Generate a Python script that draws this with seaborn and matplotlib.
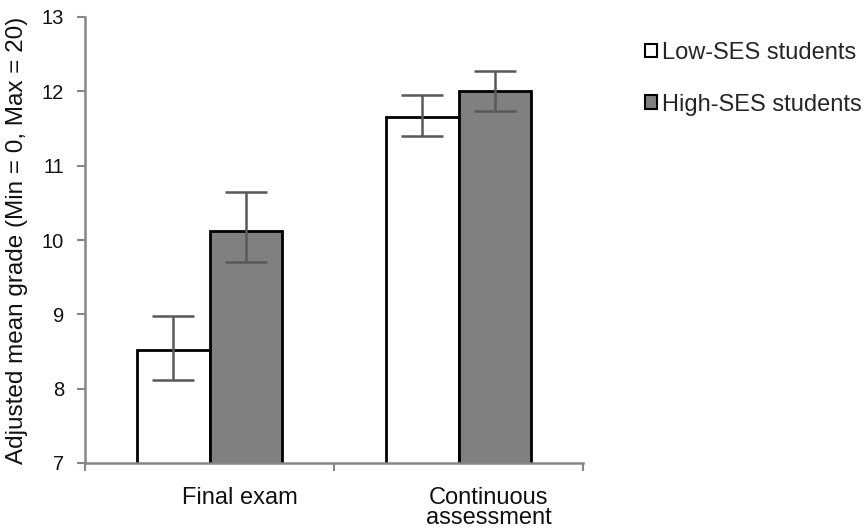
import matplotlib
matplotlib.use("Agg")
import matplotlib.pyplot as plt
import matplotlib.transforms as mtransforms
import seaborn as sns
import pandas as pd
import numpy as np

categories = ["Final exam", "Continuous\nassessment"]
groups = ["Low-SES students", "High-SES students"]
low_means = [8.52, 11.65]
high_means = [10.12, 12.00]
low_err_lo = [8.11, 11.40]
low_err_hi = [8.98, 11.95]
high_err_lo = [9.70, 11.74]
high_err_hi = [10.64, 12.28]

df = pd.DataFrame({
    "category": categories * 2,
    "group": [groups[0]] * 2 + [groups[1]] * 2,
    "value": low_means + high_means,
})

sns.set_theme(style="white")
plt.rcParams["font.family"] = ["Liberation Sans", "DejaVu Sans"]

fig = plt.figure(figsize=(8.65, 5.3), dpi=100)
ax = fig.add_axes([85 / 865, 1 - 463 / 530, (583 - 85) / 865, (463 - 17) / 530])

sns.barplot(data=df, x="category", y="value", hue="group",
            palette=["white", "#808080"], edgecolor="black", linewidth=2,
            width=0.58, gap=0, errorbar=None, ax=ax, legend=True, zorder=2)

# error bars at bar centers
lo_all = low_err_lo + high_err_lo
hi_all = low_err_hi + high_err_hi
means_all = low_means + high_means
patches = [p for p in ax.patches if p.get_height() > 0][:4]
for p, m, lo, hi in zip(patches, means_all, lo_all, hi_all):
    xc = p.get_x() + p.get_width() / 2
    ax.errorbar([xc], [m], yerr=[[m - lo], [hi - m]], fmt="none",
                ecolor="#595959", elinewidth=1.8, capsize=15, capthick=1.8, zorder=3)

ax.set_ylim(7, 13)
ax.set_xlim(-0.5, 1.5)
ax.set_yticks(range(7, 14))
ax.set_ylabel("Adjusted mean grade (Min = 0, Max = 20)", fontsize=17.5, color="#111111", labelpad=10)
ax.set_xlabel("")

for s in ["top", "right"]:
    ax.spines[s].set_visible(False)
for s in ["left", "bottom"]:
    ax.spines[s].set_color("#868686")
    ax.spines[s].set_linewidth(1.8)

ax.tick_params(axis="y", which="major", left=True, length=6, width=1.5, color="#868686",
               labelsize=14.5, labelcolor="#111111", pad=9)
ax.set_xticks([0, 1])
ax.set_xticklabels(categories, fontsize=17, color="#111111", linespacing=0.9)
ax.tick_params(axis="x", which="major", bottom=False, pad=11)
ax.set_xticks([-0.5, 0.5, 1.5], minor=True)
ax.tick_params(axis="x", which="minor", bottom=True, length=6, width=1.5, color="#868686")

offset = mtransforms.ScaledTranslation(30 / 100, 0, fig.dpi_scale_trans)
for lab in ax.get_xticklabels():
    lab.set_transform(lab.get_transform() + offset)
    lab.set_verticalalignment("top")

leg = ax.legend(loc="upper left", bbox_to_anchor=(645 / 865, 1 - 42 / 530),
                bbox_transform=fig.transFigure, frameon=False, fontsize=17,
                handlelength=0.5, handleheight=0.5, handletextpad=0.2,
                labelspacing=1.25, borderaxespad=0, borderpad=0)
for h in leg.legend_handles:
    h.set_linewidth(1.5)

fig.savefig("out.png", dpi=100)
